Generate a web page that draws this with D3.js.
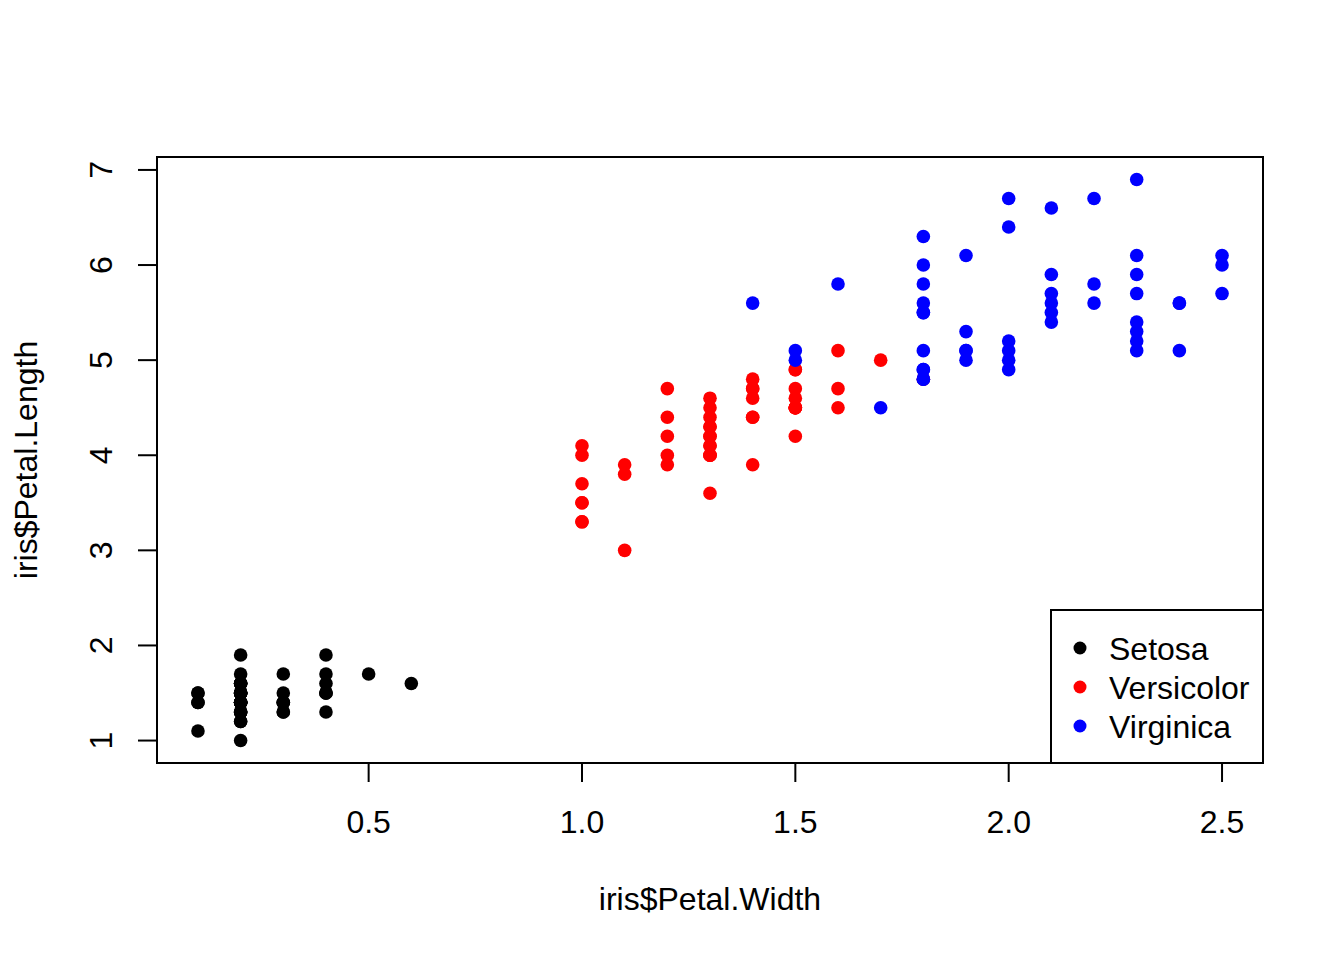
<!DOCTYPE html>
<html>
<head>
<meta charset="utf-8">
<script src="https://cdn.jsdelivr.net/npm/d3@7"></script>
<style>
  body { margin: 0; background: #fff; }
  text { font-family: Arial, "Liberation Sans", sans-serif; fill: #000; }
</style>
</head>
<body>
<svg id="chart" width="1344" height="960"></svg>
<script>
// iris petal measurements, one array per species
const setosaWidth = [0.2,0.2,0.2,0.2,0.2,0.4,0.3,0.2,0.2,0.1,0.2,0.2,0.1,0.1,0.2,0.4,0.4,0.3,0.3,0.3,0.2,0.4,0.2,0.5,0.2,0.2,0.4,0.2,0.2,0.2,0.2,0.4,0.1,0.2,0.2,0.2,0.2,0.1,0.2,0.2,0.3,0.3,0.2,0.6,0.4,0.3,0.2,0.2,0.2,0.2]
const setosaLength = [1.4,1.4,1.3,1.5,1.4,1.7,1.4,1.5,1.4,1.5,1.5,1.6,1.4,1.1,1.2,1.5,1.3,1.4,1.7,1.5,1.7,1.5,1.0,1.7,1.9,1.6,1.6,1.5,1.4,1.6,1.6,1.5,1.5,1.4,1.5,1.2,1.3,1.4,1.3,1.5,1.3,1.3,1.3,1.6,1.9,1.4,1.6,1.4,1.5,1.4]
const versicolorWidth = [1.4,1.5,1.5,1.3,1.5,1.3,1.6,1.0,1.3,1.4,1.0,1.5,1.0,1.4,1.3,1.4,1.5,1.0,1.5,1.1,1.8,1.3,1.5,1.2,1.3,1.4,1.4,1.7,1.5,1.0,1.1,1.0,1.2,1.6,1.5,1.6,1.5,1.3,1.3,1.3,1.2,1.4,1.2,1.0,1.3,1.2,1.3,1.3,1.1,1.3]
const versicolorLength = [4.7,4.5,4.9,4.0,4.6,4.5,4.7,3.3,4.6,3.9,3.5,4.2,4.0,4.7,3.6,4.4,4.5,4.1,4.5,3.9,4.8,4.0,4.9,4.7,4.3,4.4,4.8,5.0,4.5,3.5,3.8,3.7,3.9,5.1,4.5,4.5,4.7,4.4,4.1,4.0,4.4,4.6,4.0,3.3,4.2,4.2,4.2,4.3,3.0,4.1]
const virginicaWidth = [2.5,1.9,2.1,1.8,2.2,2.1,1.7,1.8,1.8,2.5,2.0,1.9,2.1,2.0,2.4,2.3,1.8,2.2,2.3,1.5,2.3,2.0,2.0,1.8,2.1,1.8,1.8,1.8,2.1,1.6,1.9,2.0,2.2,1.5,1.4,2.3,2.4,1.8,1.8,2.1,2.4,2.3,1.9,2.3,2.5,2.3,1.9,2.0,2.3,1.8]
const virginicaLength = [6.0,5.1,5.9,5.6,5.8,6.6,4.5,6.3,5.8,6.1,5.1,5.3,5.5,5.0,5.1,5.3,5.5,6.7,6.9,5.0,5.7,4.9,6.7,4.9,5.7,6.0,4.8,4.9,5.6,5.8,6.1,6.4,5.6,5.1,5.6,6.1,5.6,5.5,4.8,5.4,5.6,5.1,5.1,5.9,5.7,5.2,5.0,5.2,5.4,5.1]

const speciesNames = ["Setosa", "Versicolor", "Virginica"]
const speciesColors = ["#000000", "#ff0000", "#0000ff"]
const xTicks = [0.5, 1.0, 1.5, 2.0, 2.5]
const yTicks = [1, 2, 3, 4, 5, 6, 7]

const groups = [
  {w: setosaWidth, l: setosaLength},
  {w: versicolorWidth, l: versicolorLength},
  {w: virginicaWidth, l: virginicaLength}
]
const points = []
groups.forEach((g, s) => {
  g.w.forEach((w, i) => points.push({w: w, l: g.l[i], s: s}))
})

const plotL = 157, plotR = 1263, plotT = 157, plotB = 763
const fs = 32

// R style 4% padding on the data range
const xExt = d3.extent(points, d => d.w)
const yExt = d3.extent(points, d => d.l)
const xPad = (xExt[1] - xExt[0]) * 0.04
const yPad = (yExt[1] - yExt[0]) * 0.04
const x = d3.scaleLinear().domain([xExt[0] - xPad, xExt[1] + xPad]).range([plotL, plotR])
const y = d3.scaleLinear().domain([yExt[0] - yPad, yExt[1] + yPad]).range([plotB, plotT])

const svg = d3.select("#chart")

// x axis
const xa = svg.append("g").attr("transform", `translate(0,${plotB})`)
xa.append("line")
  .attr("x1", x(xTicks[0])).attr("x2", x(xTicks[xTicks.length - 1]))
  .attr("stroke", "#000").attr("stroke-width", 2)
xa.selectAll(".tk").data(xTicks).enter().append("line")
  .attr("x1", d => x(d)).attr("x2", d => x(d))
  .attr("y1", 0).attr("y2", 19)
  .attr("stroke", "#000").attr("stroke-width", 2)
xa.selectAll("text").data(xTicks).enter().append("text")
  .attr("x", d => x(d)).attr("y", 70)
  .attr("text-anchor", "middle").attr("font-size", fs)
  .text(d => d.toFixed(1))

// y axis
const ya = svg.append("g").attr("transform", `translate(${plotL},0)`)
ya.append("line")
  .attr("y1", y(yTicks[0])).attr("y2", y(yTicks[yTicks.length - 1]))
  .attr("stroke", "#000").attr("stroke-width", 2)
ya.selectAll(".tk").data(yTicks).enter().append("line")
  .attr("y1", d => y(d)).attr("y2", d => y(d))
  .attr("x1", 0).attr("x2", -19)
  .attr("stroke", "#000").attr("stroke-width", 2)
ya.selectAll("text").data(yTicks).enter().append("text")
  .attr("transform", d => `translate(-45,${y(d)}) rotate(-90)`)
  .attr("text-anchor", "middle").attr("font-size", fs)
  .text(d => d)

// plot frame
svg.append("rect")
  .attr("x", plotL).attr("y", plotT)
  .attr("width", plotR - plotL).attr("height", plotB - plotT)
  .attr("fill", "none").attr("stroke", "#000").attr("stroke-width", 2)

// points
svg.append("g").selectAll("circle").data(points).enter().append("circle")
  .attr("cx", d => x(d.w)).attr("cy", d => y(d.l))
  .attr("r", 6.8)
  .attr("fill", d => speciesColors[d.s])

// axis titles
svg.append("text")
  .attr("x", (plotL + plotR) / 2).attr("y", 910)
  .attr("text-anchor", "middle").attr("font-size", fs)
  .text("iris$Petal.Width")
svg.append("text")
  .attr("transform", `translate(37,${(plotT + plotB) / 2}) rotate(-90)`)
  .attr("text-anchor", "middle").attr("font-size", fs)
  .text("iris$Petal.Length")

// legend, bottom right
const lg = svg.append("g")
lg.append("rect")
  .attr("x", 1051).attr("y", 610)
  .attr("width", plotR - 1051).attr("height", plotB - 610)
  .attr("fill", "#fff").attr("stroke", "#000").attr("stroke-width", 2)
const items = lg.selectAll(".it").data(speciesNames).enter().append("g")
  .attr("transform", (d, i) => `translate(0,${648 + i * 39})`)
items.append("circle")
  .attr("cx", 1080).attr("cy", 0).attr("r", 6.5)
  .attr("fill", (d, i) => speciesColors[i])
items.append("text")
  .attr("x", 1109).attr("y", 12)
  .attr("font-size", fs)
  .text(d => d)
</script>
</body>
</html>
